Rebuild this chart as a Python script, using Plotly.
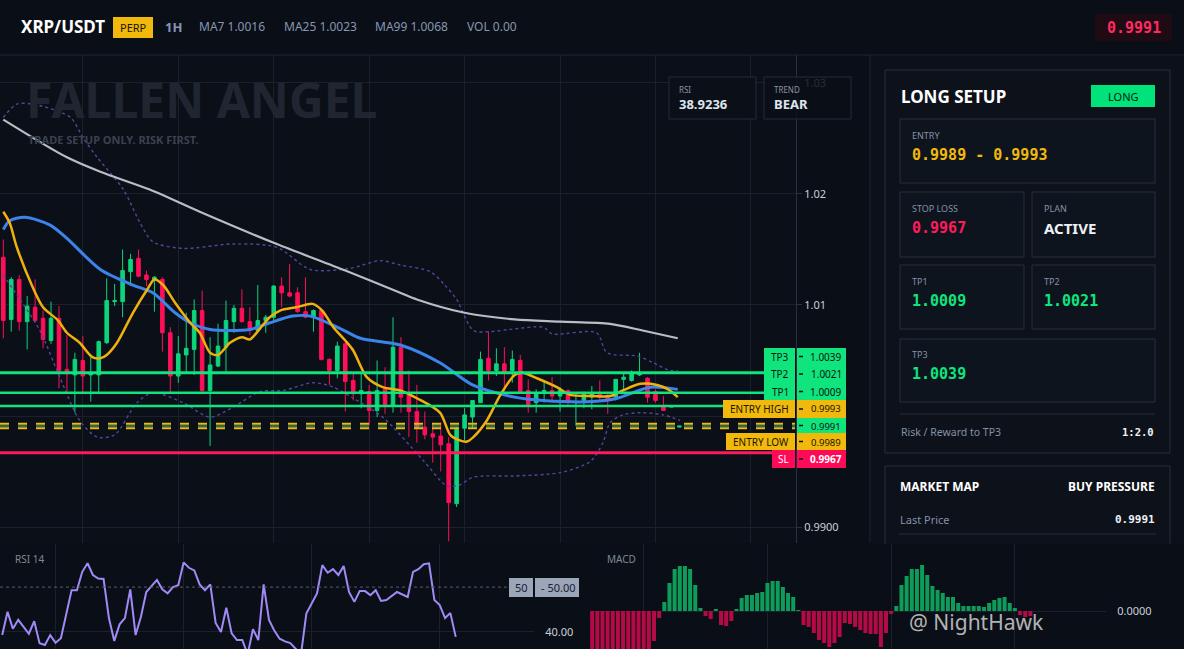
import plotly.graph_objects as go

W, H = 1184, 649

# ---- candles (1H bars, x = bar number) ----
candle_open = [1.0143, 1.0087, 1.0123, 1.0085, 1.0098, 1.0088, 1.0068, 1.0088, 1.0042, 1.0037,
               1.0050, 1.0037, 1.0037, 1.0066, 1.0103, 1.0103, 1.0130, 1.0142, 1.0127, 1.0123,
               1.0123, 1.0075, 1.0036, 1.0055, 1.0060, 1.0095, 1.0023, 1.0045, 1.0062, 1.0085,
               1.0097, 1.0085, 1.0077, 1.0086, 1.0089, 1.0117, 1.0111, 1.0111, 1.0094, 1.0089,
               1.0095, 1.0051, 1.0041, 1.0065, 1.0032, 1.0020, 1.0022, 1.0005, 1.0024, 1.0010,
               1.0062, 1.0019, 1.0004, 0.9990, 0.9984, 0.9982, 0.9975, 0.9921, 0.9989, 0.9999,
               1.0012, 1.0052, 1.0041, 1.0047, 1.0041, 1.0050, 1.0023, 1.0012, 1.0022, 1.0023,
               1.0018, 1.0023, 1.0012, 1.0014, 1.0017, 1.0020, 1.0018, 1.0017, 1.0033, 1.0032,
               1.0037, 1.0034, 1.0022, 1.0009, 1.0008, 0.9990]
candle_high = [1.0159, 1.0125, 1.0127, 1.0108, 1.0123, 1.0095, 1.0103, 1.0099, 1.0073, 1.0057,
               1.0072, 1.0056, 1.0068, 1.0124, 1.0119, 1.0150, 1.0146, 1.0150, 1.0131, 1.0126,
               1.0125, 1.0080, 1.0072, 1.0093, 1.0105, 1.0113, 1.0071, 1.0083, 1.0104, 1.0100,
               1.0114, 1.0098, 1.0118, 1.0091, 1.0118, 1.0125, 1.0137, 1.0116, 1.0125, 1.0096,
               1.0096, 1.0052, 1.0067, 1.0066, 1.0038, 1.0038, 1.0028, 1.0050, 1.0044, 1.0089,
               1.0071, 1.0041, 1.0028, 1.0004, 0.9994, 0.9994, 0.9981, 0.9990, 1.0007, 1.0014,
               1.0058, 1.0076, 1.0061, 1.0062, 1.0059, 1.0055, 1.0033, 1.0024, 1.0031, 1.0035,
               1.0026, 1.0024, 1.0021, 1.0022, 1.0027, 1.0032, 1.0022, 1.0033, 1.0039, 1.0041,
               1.0057, 1.0035, 1.0024, 1.0018, 1.0009, 0.9991]
candle_low = [1.0070, 1.0076, 1.0077, 1.0060, 1.0084, 1.0061, 1.0065, 1.0025, 1.0022, 1.0003,
              1.0021, 1.0013, 1.0021, 1.0065, 1.0099, 1.0089, 1.0117, 1.0125, 1.0117, 1.0094,
              1.0058, 1.0021, 1.0030, 1.0038, 1.0037, 1.0022, 0.9973, 1.0044, 1.0039, 1.0075,
              1.0084, 1.0073, 1.0077, 1.0075, 1.0086, 1.0098, 1.0107, 1.0093, 1.0088, 1.0076,
              1.0050, 1.0028, 1.0034, 1.0004, 1.0014, 1.0007, 0.9992, 0.9999, 1.0002, 1.0003,
              1.0003, 0.9981, 0.9976, 0.9979, 0.9958, 0.9950, 0.9887, 0.9918, 0.9978, 0.9989,
              1.0012, 1.0032, 1.0036, 1.0022, 1.0030, 1.0021, 1.0003, 1.0003, 1.0012, 1.0014,
              1.0004, 1.0010, 0.9991, 1.0007, 1.0006, 1.0014, 1.0002, 1.0014, 1.0024, 1.0031,
              1.0036, 1.0012, 1.0012, 1.0005, 1.0008, 0.9990]
candle_close = [1.0086, 1.0123, 1.0085, 1.0099, 1.0086, 1.0069, 1.0088, 1.0041, 1.0038, 1.0051,
                1.0036, 1.0039, 1.0067, 1.0104, 1.0104, 1.0131, 1.0141, 1.0126, 1.0123, 1.0125,
                1.0075, 1.0036, 1.0056, 1.0061, 1.0095, 1.0023, 1.0046, 1.0063, 1.0086, 1.0097,
                1.0085, 1.0077, 1.0086, 1.0089, 1.0117, 1.0111, 1.0108, 1.0094, 1.0089, 1.0095,
                1.0051, 1.0041, 1.0063, 1.0031, 1.0020, 1.0023, 1.0005, 1.0023, 1.0009, 1.0062,
                1.0017, 1.0004, 0.9989, 0.9983, 0.9981, 0.9974, 0.9922, 0.9988, 1.0001, 1.0014,
                1.0051, 1.0041, 1.0047, 1.0040, 1.0051, 1.0022, 1.0010, 1.0021, 1.0023, 1.0018,
                1.0023, 1.0014, 1.0013, 1.0020, 1.0021, 1.0017, 1.0015, 1.0033, 1.0035, 1.0039,
                1.0039, 1.0017, 1.0014, 1.0005, 1.0009, 0.9991]
bar_index = list(range(len(candle_open)))

# ---- moving averages and bands at sample bars ----
ma7_x = [0, 0.8, 1.7, 3.7, 5.0, 6.9, 8.0, 9.6, 11.2, 12.2, 13.0, 14.3, 16.3, 18.1, 19.0, 20.1,
         21.6, 23.5, 24.7, 26.0, 27.0, 28.5, 30.0, 31.0, 32.3, 33.5, 34.8, 36.9, 38.9, 40.1, 41.5,
         43.0, 44.0, 45.7, 47.7, 49.9, 52.0, 54.9, 56.2, 57.4, 58.3, 59.1, 60.8, 62.5, 64.3, 65.3,
         67.1, 69.6, 71.3, 74.1, 76.3, 77.9, 80.1, 82.2, 83.6, 84.8]
ma7_y = [1.0184, 1.0174, 1.0152, 1.0116, 1.0098, 1.0086, 1.0075, 1.0066, 1.0053, 1.0052, 1.0055,
         1.0066, 1.0093, 1.0114, 1.0123, 1.0118, 1.0102, 1.0084, 1.0075, 1.0057, 1.0055, 1.0066,
         1.0071, 1.0069, 1.0079, 1.0089, 1.0095, 1.0098, 1.0101, 1.0095, 1.0080, 1.0068, 1.0059,
         1.0035, 1.0026, 1.0023, 1.0016, 1.0003, 0.9983, 0.9978, 0.9977, 0.9981, 0.9996, 1.0019,
         1.0037, 1.0039, 1.0034, 1.0026, 1.0019, 1.0018, 1.0018, 1.0023, 1.0029, 1.0028, 1.0024,
         1.0017]

ma25_x = [0, 0.8, 2.7, 5.9, 8.0, 12.2, 16.3, 18.8, 21.6, 23.5, 26.0, 31.0, 33.5, 36.4, 38.6,
          42.3, 44.9, 49.9, 54.9, 59.0, 64.3, 67.9, 74.1, 77.2, 81.3, 84.8]
ma25_y = [1.0168, 1.0176, 1.0179, 1.0172, 1.0160, 1.0132, 1.0118, 1.0111, 1.0093, 1.0084, 1.0078,
          1.0078, 1.0084, 1.0090, 1.0090, 1.0079, 1.0070, 1.0064, 1.0048, 1.0028, 1.0017, 1.0014,
          1.0013, 1.0016, 1.0026, 1.0024]

ma99_x = [0, 8.0, 12.2, 18.4, 24.7, 34.0, 43.0, 49.9, 52.0, 58.0, 64.3, 70.0, 76.3, 80.4, 84.8]
ma99_y = [1.0267, 1.0233, 1.0220, 1.0204, 1.0184, 1.0156, 1.0131, 1.0111, 1.0105, 1.0093, 1.0087,
          1.0085, 1.0083, 1.0077, 1.0070]

bb_up_x = [0, 1.7, 3.7, 7.1, 8.6, 10.0, 11.8, 15.1, 17.2, 18.8, 22.6, 28.9, 34.4, 38.6, 43.6,
           47.4, 49.9, 53.7, 55.5, 57.0, 59.1, 61.2, 63.7, 67.9, 69.0, 74.6, 75.9, 79.7, 81.7,
           83.8, 84.8]
bb_up_y = [1.0269, 1.0281, 1.0281, 1.0274, 1.0268, 1.0251, 1.0233, 1.0204, 1.0174, 1.0157, 1.0151,
           1.0155, 1.0152, 1.0132, 1.0133, 1.0140, 1.0136, 1.0130, 1.0118, 1.0105, 1.0077, 1.0076,
           1.0078, 1.0080, 1.0074, 1.0075, 1.0057, 1.0054, 1.0048, 1.0041, 1.0041]
bb_lo_x = [0, 2.1, 4.6, 7.1, 9.6, 11.8, 14.0, 16.8, 18.8, 22.6, 26.0, 28.9, 32.3, 35.2, 38.9,
           41.5, 44.0, 47.7, 52.8, 55.8, 57.4, 59.1, 64.1, 70.0, 73.8, 75.4, 76.3, 77.9, 80.1,
           83.0, 85.1]
bb_lo_y = [1.0127, 1.0105, 1.0077, 1.0035, 0.9996, 0.9981, 0.9983, 1.0012, 1.0021, 1.0012, 0.9999,
           1.0008, 1.0022, 1.0023, 1.0030, 1.0026, 1.0016, 0.9999, 0.9960, 0.9937, 0.9938, 0.9945,
           0.9946, 0.9949, 0.9959, 0.9976, 0.9994, 1.0001, 1.0003, 1.0001, 0.9996]

# ---- RSI 14 ----
rsi_x = [0, 1, 2, 3, 5, 6, 7, 8, 9, 10, 11, 13, 14, 15, 16, 17, 18, 19, 20, 21, 22, 23, 24, 25,
         26, 27, 29, 30, 31, 32, 33, 34, 35, 36, 37, 38, 39, 40, 41, 42, 43, 44, 45, 46, 47, 48,
         49, 50, 51, 52, 53, 54, 56, 57, 59, 60, 61, 62, 63, 64, 65, 66, 67, 68, 69, 70, 71, 72,
         74, 76, 77, 78, 79, 80, 81, 82, 83, 84, 85]
rsi_y = [39.3, 44.5, 40.7, 42.7, 39.6, 42.4, 37.5, 37.1, 39.3, 37.6, 38.6, 49.3, 49.3, 53.4, 55.3,
         52.7, 51.9, 51.8, 43.1, 38.0, 41.7, 43.1, 49.5, 39.3, 43.4, 48.9, 51.6, 49.5, 48.6, 50.0,
         50.4, 55.5, 54.3, 53.7, 50.6, 49.3, 50.6, 42.0, 40.0, 45.4, 39.7, 38.2, 38.2, 35.0, 40.6,
         38.2, 50.6, 42.7, 40.3, 38.5, 37.9, 37.5, 35.0, 44.1, 48.6, 54.9, 53.2, 54.0, 52.7, 54.7,
         48.9, 46.7, 49.1, 49.1, 48.2, 49.3, 46.9, 47.1, 48.9, 47.8, 53.4, 54.0, 55.1, 55.3, 47.1,
         46.0, 43.1, 44.2, 38.9]

# ---- MACD histogram, one bar per candle ----
macd_hist = [-0.00048, -0.00050, -0.00050, -0.00048, -0.00048, -0.00046, -0.00046, -0.00045,
             -0.00044, -0.00042, -0.00040, -0.00039, -0.00030, -0.00007, 0.00009, 0.00028,
             0.00042, 0.00045, 0.00045, 0.00042, 0.00026, 0.00003, -0.00005, -0.00008, 0.00002,
             -0.00014, -0.00015, -0.00010, 0.00002, 0.00013, 0.00016, 0.00016, 0.00018, 0.00019,
             0.00028, 0.00030, 0.00030, 0.00024, 0.00018, 0.00014, 0.00001, -0.00014, -0.00016,
             -0.00022, -0.00029, -0.00032, -0.00036, -0.00032, -0.00026, -0.00012, -0.00013,
             -0.00016, -0.00019, -0.00022, -0.00023, -0.00023, -0.00036, -0.00022, -0.00003,
             0.00005, 0.00026, 0.00035, 0.00042, 0.00042, 0.00046, 0.00036, 0.00025, 0.00021,
             0.00018, 0.00014, 0.00014, 0.00008, 0.00005, 0.00005, 0.00005, 0.00005, 0.00004,
             0.00008, 0.00011, 0.00013, 0.00014, 0.00008, 0.00003, -0.00004, -0.00006, -0.00005]

# ---- trade plan ----
symbol = "XRP/USDT"
ma7_now, ma25_now, ma99_now, vol_now = "1.0016", "1.0023", "1.0068", "0.00"
last_price = 0.9991
tp3, tp2, tp1 = 1.0039, 1.0021, 1.0009
entry_high, entry_low = 0.9993, 0.9989
stop_loss = 0.9967
rsi_now = "38.9236"
trend = "BEAR"
risk_reward = "1:2.0"

BG = "#0a0e16"
GRID = "#1a212d"
UP = "#0ed47c"
DOWN = "#ff0f58"
GREEN = "#0fe47d"
YELLOW = "#f0b90b"
SANS = "Noto Sans"
MONO = "DejaVu Sans Mono"

shapes = []
annotations = []


def fx(px):
    return px / W


def fy(py):
    return 1 - py / H


def box(x0, y0, x1, y1, fill, border=None, layer="above"):
    shapes.append(dict(type="rect", xref="paper", yref="paper",
                       x0=fx(x0), x1=fx(x1), y0=fy(y1), y1=fy(y0),
                       fillcolor=fill, layer=layer,
                       line=dict(color=border or fill, width=1 if border else 0)))


def hline(x0, x1, y, color, width=1):
    shapes.append(dict(type="line", xref="paper", yref="paper",
                       x0=fx(x0), x1=fx(x1), y0=fy(y), y1=fy(y),
                       line=dict(color=color, width=width), layer="above"))


def label(x, y, s, size, color, anchor="left", family=SANS):
    annotations.append(dict(x=fx(x), y=fy(y), xref="paper", yref="paper", text=s,
                            showarrow=False, xanchor=anchor, yanchor="middle",
                            borderpad=0, font=dict(size=size, color=color, family=family)))


fig = go.Figure()

# main price chart
fig.add_trace(go.Candlestick(
    x=bar_index, open=candle_open, high=candle_high, low=candle_low, close=candle_close,
    increasing=dict(line=dict(color=UP, width=1), fillcolor=UP),
    decreasing=dict(line=dict(color=DOWN, width=1), fillcolor=DOWN),
    whiskerwidth=0, xaxis="x", yaxis="y", showlegend=False))

for xs, ys, color, width, dash in [
    (bb_up_x, bb_up_y, "#54459a", 1.4, "dot"),
    (bb_lo_x, bb_lo_y, "#54459a", 1.4, "dot"),
    (ma99_x, ma99_y, "#b9bdc6", 2.2, "solid"),
    (ma25_x, ma25_y, "#3a84ea", 3, "solid"),
    (ma7_x, ma7_y, "#f0b00e", 2.5, "solid"),
]:
    fig.add_trace(go.Scatter(x=xs, y=ys, mode="lines", xaxis="x", yaxis="y",
                             line=dict(color=color, width=width, dash=dash, shape="spline",
                                       smoothing=0.8),
                             hoverinfo="skip", showlegend=False))

# RSI
fig.add_trace(go.Scatter(x=rsi_x, y=rsi_y, mode="lines", xaxis="x2", yaxis="y2",
                         line=dict(color="#a08af5", width=2), showlegend=False))

# MACD histogram
fig.add_trace(go.Bar(x=bar_index, y=macd_hist, xaxis="x3", yaxis="y3",
                     marker=dict(color=["#0e9c5a" if v >= 0 else "#b40a46" for v in macd_hist],
                                 line=dict(width=0)),
                     showlegend=False))

# ---- level lines on the price chart ----
main_right = 795
for price, color, width, dash in [
    (tp3, GREEN, 3, "solid"), (tp2, GREEN, 2.5, "solid"), (tp1, GREEN, 2.5, "solid"),
    (entry_high, YELLOW, 2, "dash"), (entry_low, YELLOW, 2, "dash"),
    (last_price, "#2bd0a0", 1, "dash"), (stop_loss, "#ff1a5c", 3, "solid"),
]:
    shapes.append(dict(type="line", xref="paper", yref="y", x0=0, x1=fx(main_right),
                       y0=price, y1=price, layer="above",
                       line=dict(color=color, width=width, dash=dash)))

# ---- layout frames ----
box(0, 0, W, 55, BG, layer="below")
hline(0, W, 55, "#1d2532")
shapes.append(dict(type="line", xref="paper", yref="paper", x0=fx(870), x1=fx(870),
                   y0=fy(543), y1=fy(55), line=dict(color="#1d2532", width=1), layer="above"))

# header
label(20, 27, "<b>%s</b>" % symbol, 17, "#ffffff")
box(113, 17, 153, 38, YELLOW)
label(133, 27.5, "PERP", 11, "#1b1400", anchor="center")
label(164, 27, "<b>1H</b>", 13, "#8796b2")
label(198, 27, "MA7 " + ma7_now, 12, "#8796b2")
label(283, 27, "MA25 " + ma25_now, 12, "#8796b2")
label(374, 27, "MA99 " + ma99_now, 12, "#8796b2")
label(466, 27, "VOL " + vol_now, 12, "#8796b2")
box(1095, 14, 1172, 41, "#1f0b14")
label(1134, 28, "<b>%.4f</b>" % last_price, 15, "#ff2a62", anchor="center", family=MONO)

# chart watermark
label(25, 100, "<b>FALLEN ANGEL</b>", 48, "#1f2631")
label(27, 140, "<b>TRADE SETUP ONLY. RISK FIRST.</b>", 11, "#3a424f")

# RSI / TREND boxes
box(669, 77, 756, 119, "rgba(11,15,23,0.9)", "#232c3a")
label(678, 89, "RSI", 8, "#8a94a6")
label(678, 104, "<b>%s</b>" % rsi_now, 13, "#dfe4ec")
box(764, 77, 851, 119, "rgba(11,15,23,0.85)", "#232c3a")
label(773, 89, "TREND", 8, "#8a94a6")
label(773, 104, "<b>%s</b>" % trend, 13, "#dfe4ec")

# price tags on the right edge
box(764, 348, 795, 400, GREEN)
box(797, 348, 846, 365, GREEN)
box(797, 365, 846, 383, GREEN)
box(797, 383, 846, 400, GREEN)
box(723, 400, 795, 418, YELLOW)
box(797, 400, 846, 418, YELLOW)
box(797, 418, 846, 433, GREEN)
box(726, 433, 795, 450, YELLOW)
box(797, 433, 846, 450, YELLOW)
box(772, 450, 795, 468, "#ff0a57")
box(797, 450, 846, 468, "#ff0a57")
for yc in [356.5, 374, 391.5, 409, 425.5, 441.5, 459]:
    hline(799, 803, yc, "#0b0f17", 1.5)
tag_dark = "#0b1510"
label(780, 356.5, "TP3", 10, tag_dark, anchor="center")
label(780, 374, "TP2", 10, tag_dark, anchor="center")
label(780, 391.5, "TP1", 10, tag_dark, anchor="center")
label(759, 409, "ENTRY HIGH", 10, "#1b1400", anchor="center")
label(760.5, 441.5, "ENTRY LOW", 10, "#1b1400", anchor="center")
label(783.5, 459, "SL", 10, "#ffffff", anchor="center")
label(826, 356.5, "%.4f" % tp3, 10, tag_dark, anchor="center")
label(826, 374, "%.4f" % tp2, 10, tag_dark, anchor="center")
label(826, 391.5, "%.4f" % tp1, 10, tag_dark, anchor="center")
label(826, 408.5, "%.4f" % entry_high, 9.5, "#1b1400", anchor="center")
label(826, 426, "%.4f" % last_price, 9.5, tag_dark, anchor="center")
label(826, 442, "%.4f" % entry_low, 9.5, "#1b1400", anchor="center")
label(826, 459, "<b>%.4f</b>" % stop_loss, 10, "#ffffff", anchor="center")

# ---- right side panel ----
box(871, 56, W, 543, "#0b1019", layer="below")
box(885, 70, 1170, 453, "#0c111a", "#252e3d")
label(900, 96, "<b>LONG SETUP</b>", 17, "#ffffff")
box(1091, 85, 1155, 107, "#00e27a")
label(1123, 96, "LONG", 11, "#08180f", anchor="center")

card_border = "#262f3e"
card_fill = "#0e141e"
box(900, 119, 1155, 183, card_fill, card_border)
label(911, 135, "ENTRY", 9, "#8591a6")
label(911, 155, "<b>%.4f - %.4f</b>" % (entry_low, entry_high), 15, YELLOW, family=MONO)
box(900, 192, 1024, 257, card_fill, card_border)
label(911, 208, "STOP LOSS", 9, "#8591a6")
label(911, 228, "<b>%.4f</b>" % stop_loss, 15, "#ff1a5c", family=MONO)
box(1032, 192, 1155, 257, card_fill, card_border)
label(1043, 208, "PLAN", 9, "#8591a6")
label(1043, 228, "<b>ACTIVE</b>", 15, "#eef2f7")
box(900, 265, 1024, 329, card_fill, card_border)
label(911, 281, "TP1", 9, "#8591a6")
label(911, 301, "<b>%.4f</b>" % tp1, 15, GREEN, family=MONO)
box(1032, 265, 1155, 329, card_fill, card_border)
label(1043, 281, "TP2", 9, "#8591a6")
label(1043, 301, "<b>%.4f</b>" % tp2, 15, GREEN, family=MONO)
box(900, 339, 1155, 402, card_fill, card_border)
label(911, 354, "TP3", 9, "#8591a6")
label(911, 374, "<b>%.4f</b>" % tp3, 15, GREEN, family=MONO)
hline(900, 1155, 414, "#252e3d")
label(900, 432, "Risk / Reward to TP3", 10.5, "#8591a6")
label(1155, 432, "<b>%s</b>" % risk_reward, 10.5, "#eef2f7", anchor="right", family=MONO)

box(885, 466, 1170, 560, "#0c111a", "#252e3d", layer="below")
label(899, 486, "<b>MARKET MAP</b>", 12, "#ffffff")
label(1156, 486, "<b>BUY PRESSURE</b>", 12, "#ffffff", anchor="right")
label(899, 519, "Last Price", 11, "#8591a6")
label(1156, 519, "<b>%.4f</b>" % last_price, 11, "#eef2f7", anchor="right", family=MONO)
hline(899, 1156, 534, "#252e3d")

# ---- bottom panels ----
box(0, 544, W, H, BG, layer="below")
label(14, 559, "RSI 14", 10, "#7f8998")
label(606, 559, "MACD", 10, "#7f8998")
shapes.append(dict(type="line", xref="paper", yref="y2", x0=0, x1=fx(534), y0=50, y1=50,
                   line=dict(color="#59606e", width=1, dash="dot"), layer="above"))
box(509, 578, 533, 597, "#9ba6b9")
box(535, 578, 579, 597, "#9ba6b9")
label(521, 587.5, "50", 11, "#1a2030", anchor="center")
label(558, 587.5, "- 50.00", 11, "#1a2030", anchor="center")
label(908, 622, "@ NightHawk", 21, "rgba(235,235,235,0.75)")

xr = [-0.415, 99.67]
fig.update_layout(
    width=W, height=H, margin=dict(l=0, r=0, t=0, b=0),
    paper_bgcolor=BG, plot_bgcolor="#0b0f18",
    boxgap=0.36, bargap=0.22,
    shapes=shapes, annotations=annotations,
    font=dict(family=SANS, color="#c5ccd8"),
    xaxis=dict(domain=[0, fx(796)], range=xr, anchor="y", rangeslider=dict(visible=False),
               tickvals=[10, 22, 34, 46, 58, 70, 82, 94], showticklabels=False, ticks="",
               showgrid=True, gridcolor=GRID, zeroline=False, fixedrange=True),
    yaxis=dict(domain=[fy(543), fy(55)], range=[0.98856, 1.03252], anchor="x", side="right",
               tickvals=[0.99, 1.00, 1.01, 1.02, 1.03],
               ticktext=["0.9900", "1.00", "1.01", "1.02", "1.03"],
               showline=True, linecolor="#273143", ticks="outside", ticklen=5,
               tickcolor="#273143", tickfont=dict(size=11, color="#c9d0da"),
               showgrid=True, gridcolor=GRID, zeroline=False),
    xaxis2=dict(domain=[0, fx(534)], range=xr, anchor="y2",
                tickvals=[10, 34, 58, 82], showticklabels=False, ticks="",
                showgrid=True, gridcolor=GRID, zeroline=False),
    yaxis2=dict(domain=[0, fy(544)], range=[36.2, 59.6], anchor="x2", side="right",
                tickvals=[40], ticktext=["40.00"], ticks="outside", ticklen=8,
                tickcolor="rgba(0,0,0,0)", tickfont=dict(size=11, color="#c9d0da"),
                showgrid=True, gridcolor=GRID, zeroline=False),
    xaxis3=dict(domain=[fx(590), fx(1106)], range=xr, anchor="y3",
                tickvals=[10, 34, 58, 82], showticklabels=False, ticks="",
                showgrid=True, gridcolor=GRID, zeroline=False),
    yaxis3=dict(domain=[0, fy(544)], range=[-0.00038, 0.00067], anchor="x3", side="right",
                tickvals=[0], ticktext=["0.0000"], ticks="outside", ticklen=8,
                tickcolor="rgba(0,0,0,0)", tickfont=dict(size=11, color="#c9d0da"),
                showgrid=True, gridcolor=GRID, zeroline=False),
)

fig.write_html("out.html", config={"displayModeBar": False},
               post_script="document.body.style.margin='0';")
